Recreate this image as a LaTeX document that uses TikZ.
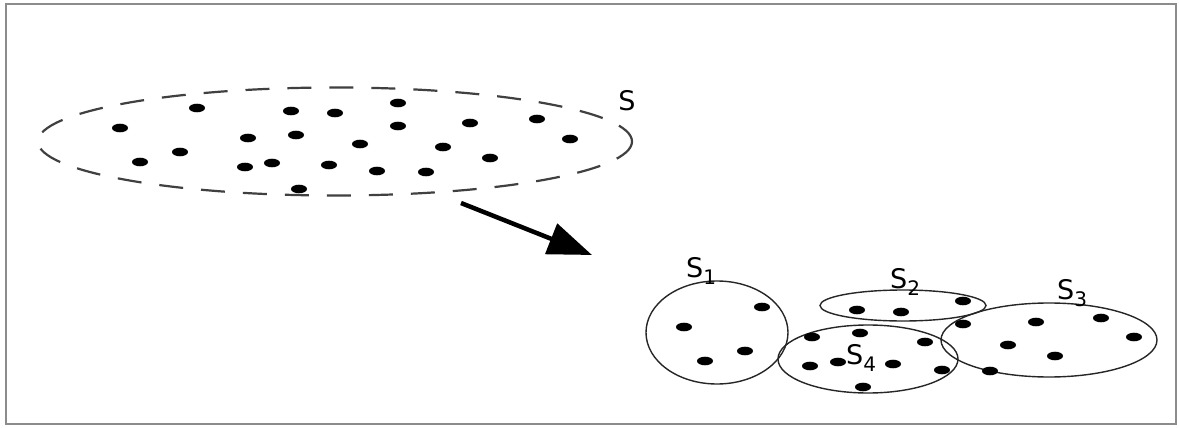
\documentclass[tikz,border=0pt]{standalone}
\usepackage{fontspec}
\setmainfont{DejaVu Sans}
\usetikzlibrary{arrows.meta}
\newcommand{\subs}[1]{S\raisebox{-7pt}{\fontsize{20}{20}\selectfont #1}}
\begin{document}
\begin{tikzpicture}[x=1pt,y=-1pt,
  setline/.style={draw=black!85,line width=1.4pt},
  lbl/.style={font=\fontsize{27}{30}\selectfont,inner sep=0pt},
]
\useasboundingbox (0,0) rectangle (1179,428);
\fill[white] (0,0) rectangle (1179,428);
\draw[black!45,line width=2.5pt] (6,4) rectangle (1176,424);
% big set
\draw[black!75,line width=2.2pt,dash pattern=on 24pt off 18pt] (335,141.5) ellipse [x radius=297,y radius=54];
\node[lbl] (S) at (627,101) {S};
\foreach \p in {(197,108),(291,111),(335,113),(398,103),(120,128),(248,138),(296,135),(398,126),(470,123),(537,119),(570,139),(180,152),(140,162),(245,167),(272,163),(329,165),(360,144),(377,171),(426,172),(443,147),(490,158),(299,189)}
  \fill \p ellipse [x radius=8,y radius=4.3];
% arrow
\coordinate (a1) at (461,203);
\coordinate (a2) at (592,255);
\draw[line width=4.5pt,-{Triangle[length=44pt,width=32pt]}] (a1) -- (a2);
% subsets
\draw[setline] (717,332.5) ellipse [x radius=71,y radius=51.5];
\draw[setline] (903,305.5) ellipse [x radius=83,y radius=15.5];
\draw[setline] (1049,340) ellipse [x radius=108,y radius=37];
\draw[setline] (868,359) ellipse [x radius=90,y radius=34];
\node[lbl,anchor=base west] (S1) at (686,277) {\subs{1}};
\node[lbl,anchor=base west] (S2) at (890,288) {\subs{2}};
\node[lbl,anchor=base west] (S3) at (1057,299) {\subs{3}};
\node[lbl,anchor=base west] (S4) at (846,364) {\subs{4}};
\foreach \p in {(762,307),(684,327),(745,351),(705,361),
  (857,310),(901,312),(963,301),
  (963,324),(1036,322),(1101,318),(1134,337),(1008,345),(1055,356),(990,371),
  (812,337),(860,333),(925,342),(810,366),(838,362),(893,364),(942,370),(863,387)}
  \fill \p ellipse [x radius=8,y radius=4.3];
\end{tikzpicture}
\end{document}
